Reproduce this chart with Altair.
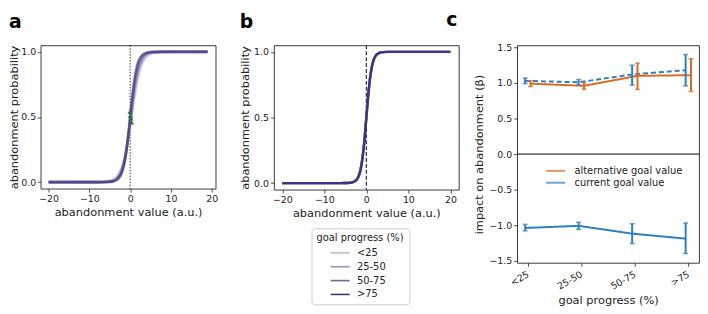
import altair as alt
import pandas as pd

FONT = "DejaVu Sans"

# ---------------- data ----------------
groups = ["<25", "25-50", "50-75", ">75"]
group_colors = ["#bfb7d6", "#9d93be", "#7463a6", "#44327e"]

# panel a: fitted abandonment curves per goal-progress bin
a_x = [-20, -8, -6, -5, -4, -3, -2, -1.5, -1, -0.5, 0, 0.5, 1, 1.5, 2, 3, 4, 5, 6, 8, 19]
a_lt25 = [0.0, 0.0006, 0.0034, 0.0084, 0.0204, 0.049, 0.112, 0.165, 0.237, 0.327, 0.433,
          0.545, 0.652, 0.746, 0.822, 0.919, 0.965, 0.986, 0.994, 0.999, 1.0]
a_25_50 = [0.0, 0.0003, 0.0020, 0.0055, 0.0148, 0.039, 0.100, 0.154, 0.231, 0.332, 0.450,
           0.574, 0.690, 0.786, 0.858, 0.943, 0.978, 0.992, 0.997, 1.0, 1.0]
a_50_75 = [0.0, 0.0001, 0.0012, 0.0037, 0.0109, 0.032, 0.090, 0.147, 0.230, 0.341, 0.473,
           0.608, 0.729, 0.823, 0.890, 0.960, 0.987, 0.996, 0.999, 1.0, 1.0]
a_gt75 = [0.0, 0.0, 0.0006, 0.0019, 0.0067, 0.023, 0.076, 0.133, 0.223, 0.349, 0.500,
          0.651, 0.777, 0.867, 0.924, 0.977, 0.993, 0.998, 0.999, 1.0, 1.0]
a_mark_x = [-0.05, 0.05, 0.2, 0.35]
a_mark_y = [0.54, 0.51, 0.49, 0.46]
a_vline = [0]

# panel b: model-predicted curves
b_x = [-20, -6, -5, -4, -3, -2, -1.5, -1, -0.5, 0, 0.5, 1, 1.5, 2, 3, 4, 5, 6, 20]
b_lt25 = [0.0, 0.0001, 0.0006, 0.0025, 0.011, 0.047, 0.095, 0.182, 0.321, 0.5,
          0.679, 0.818, 0.905, 0.953, 0.989, 0.9975, 0.9995, 0.9999, 1.0]
b_25_50 = [0.0, 0.0001, 0.0005, 0.0022, 0.010, 0.044, 0.090, 0.177, 0.317, 0.5,
           0.683, 0.823, 0.910, 0.956, 0.990, 0.998, 0.9996, 1.0, 1.0]
b_50_75 = [0.0, 0.0001, 0.0004, 0.0019, 0.009, 0.041, 0.086, 0.172, 0.313, 0.5,
           0.687, 0.828, 0.914, 0.959, 0.991, 0.998, 0.9997, 1.0, 1.0]
b_gt75 = [0.0, 0.0001, 0.0003, 0.0017, 0.0082, 0.039, 0.083, 0.168, 0.310, 0.5,
          0.690, 0.832, 0.917, 0.961, 0.992, 0.998, 0.9997, 1.0, 1.0]
b_vline = [0]

# panel c: regression weights
categories = ["<25", "25-50", "50-75", ">75"]
alt_mean = [0.99, 0.96, 1.10, 1.11]
alt_lo = [0.95, 0.91, 0.91, 0.88]
alt_hi = [1.03, 1.01, 1.28, 1.34]
cur_mean = [-1.04, -1.01, -1.12, -1.19]
cur_lo = [-1.08, -1.06, -1.26, -1.40]
cur_hi = [-0.99, -0.96, -0.98, -0.97]
cur_abs_mean = [1.03, 1.01, 1.12, 1.18]
cur_abs_lo = [0.99, 0.97, 0.97, 0.96]
cur_abs_hi = [1.07, 1.05, 1.25, 1.40]
c_zero = [0]
measures = ["alternative goal value", "current goal value"]
measure_colors = ["#dd6a22", "#2b80c2"]

# ---------------- tables ----------------
def long_curves(xs, series):
    rows = []
    for g, ys in zip(groups, series):
        for x, y in zip(xs, ys):
            rows.append({"x": x, "y": y, "group": g})
    return pd.DataFrame(rows)

df_a = long_curves(a_x, [a_lt25, a_25_50, a_50_75, a_gt75])
df_b = long_curves(b_x, [b_lt25, b_25_50, b_50_75, b_gt75])
df_am = pd.DataFrame({"x": a_mark_x, "y": a_mark_y})

rows = []
for i in range(len(categories)):
    rows.append({"idx": i, "measure": measures[0], "style": "solid",
                 "mean": alt_mean[i], "lo": alt_lo[i], "hi": alt_hi[i]})
    rows.append({"idx": i, "measure": measures[1], "style": "solid",
                 "mean": cur_mean[i], "lo": cur_lo[i], "hi": cur_hi[i]})
    rows.append({"idx": i, "measure": measures[1], "style": "dashed",
                 "mean": cur_abs_mean[i], "lo": cur_abs_lo[i], "hi": cur_abs_hi[i]})
df_c = pd.DataFrame(rows)
df_c["series"] = df_c["measure"] + "|" + df_c["style"]

TITLE_OFFSET = 13

# ---------------- panel a ----------------
gcolor_nolegend = alt.Color("group:N", scale=alt.Scale(domain=groups, range=group_colors), legend=None)

xa = alt.X("x:Q", scale=alt.Scale(domain=[-21.95, 20.95], nice=False, zero=False),
           axis=alt.Axis(values=[-20, -10, 0, 10, 20], title="abandonment value (a.u.)"))
ya = alt.Y("y:Q", scale=alt.Scale(domain=[-0.05, 1.05], nice=False, zero=False),
           axis=alt.Axis(values=[0, 0.5, 1], format=".1f", title="abandonment probability",
                         titlePadding=1, labelPadding=1.5))

a_lines = alt.Chart(df_a).mark_line(interpolate="monotone").encode(
    x=xa, y=ya, color=gcolor_nolegend,
    size=alt.Size("group:N", scale=alt.Scale(domain=groups, range=[3.0, 2.6, 2.3, 1.8]), legend=None),
    opacity=alt.Opacity("group:N", scale=alt.Scale(domain=groups, range=[0.7, 0.7, 0.8, 1.0]), legend=None),
)
a_rule = alt.Chart(pd.DataFrame({"x": a_vline})).mark_rule(
    color="black", strokeDash=[1.5, 1.5], strokeWidth=0.8).encode(x="x:Q")
a_pts = alt.Chart(df_am).mark_point(filled=True, shape="triangle-up", size=26,
                                    color="#2f6e4c", opacity=1).encode(x="x:Q", y="y:Q")

pa = alt.layer(a_rule, a_lines, a_pts).properties(
    width=177, height=145,
    title=alt.TitleParams("a", anchor="start", offset=TITLE_OFFSET),
)

# ---------------- panel b ----------------
xb = alt.X("x:Q", scale=alt.Scale(domain=[-22, 22], nice=False, zero=False),
           axis=alt.Axis(values=[-20, -10, 0, 10, 20], title="abandonment value (a.u.)"))
yb = alt.Y("y:Q", scale=alt.Scale(domain=[-0.05, 1.05], nice=False, zero=False),
           axis=alt.Axis(values=[0, 0.5, 1], format=".1f", title="abandonment probability"))

b_lines = alt.Chart(df_b).mark_line(interpolate="monotone", strokeWidth=2.4).encode(
    x=xb, y=yb,
    color=alt.Color("group:N", scale=alt.Scale(domain=groups, range=group_colors),
                    legend=alt.Legend(
                        title="goal progress (%)", orient="none", legendX=38, legendY=185,
                        direction="vertical", strokeColor="#cccccc", fillColor="white",
                        cornerRadius=3, padding=5, symbolType="M-1.6,0L1.6,0", symbolSize=144,
                        symbolStrokeWidth=1.6, labelFontSize=10, titleFontSize=10,
                        titleFontWeight="normal", titleFont=FONT, labelFont=FONT,
                        labelOffset=10, rowPadding=2, titlePadding=3, titleAnchor="middle",
                        labelColor="#222", titleColor="#222")),
)
b_rule = alt.Chart(pd.DataFrame({"x": b_vline})).mark_rule(
    color="#3a3470", strokeDash=[4, 2], strokeWidth=1.3).encode(x="x:Q")

pb = alt.layer(b_lines, b_rule).properties(
    width=187, height=146,
    title=alt.TitleParams("b", anchor="start", offset=TITLE_OFFSET),
)

# ---------------- panel c ----------------
label_expr = "[" + ",".join("'%s'" % c for c in categories) + "][datum.value]"
xc = alt.X("xpos:Q", scale=alt.Scale(domain=[-0.2, 3.2], nice=False, zero=False),
           axis=alt.Axis(values=[0, 1, 2, 3], labelExpr=label_expr, labelAngle=-30,
                         labelAlign="right", labelBaseline="middle", labelPadding=7,
                         title="goal progress (%)", titlePadding=4))
yc_scale = alt.Scale(domain=[-1.53, 1.53], nice=False, zero=False)
yc_axis = alt.Axis(values=[-1.5, -1.0, -0.5, 0, 0.5, 1.0, 1.5], format=".1f",
                   title="impact on abandonment (β)", titlePadding=4, labelOverlap=False)
ccolor = alt.Color("measure:N", scale=alt.Scale(domain=measures, range=measure_colors),
                   legend=alt.Legend(title=None, orient="none", legendX=32, legendY=120,
                                     symbolType="M-1.6,0L1.6,0", symbolSize=144, symbolStrokeWidth=2,
                                     labelFontSize=10, labelFont=FONT, labelOffset=12,
                                     rowPadding=0, labelColor="#222"))

base_c = alt.Chart(df_c).transform_calculate(
    xpos="datum.idx + (datum.measure == 'alternative goal value' ? 0.05 : -0.05)")

ymean = alt.Y("mean:Q", scale=yc_scale, axis=yc_axis)
ylo = alt.Y("lo:Q", scale=yc_scale, axis=yc_axis)
yhi = alt.Y("hi:Q", scale=yc_scale, axis=yc_axis)

c_line = base_c.mark_line(strokeWidth=2).encode(
    x=xc, y=ymean, color=ccolor,
    detail="series:N",
    strokeDash=alt.StrokeDash("style:N", scale=alt.Scale(domain=["solid", "dashed"],
                                                         range=[[1, 0], [5, 3]]), legend=None),
)
c_err = base_c.mark_rule(strokeWidth=2).encode(
    x=xc, y=ylo, y2="hi:Q", color=ccolor)
c_cap_lo = base_c.mark_tick(orient="horizontal", size=5, thickness=1.6).encode(
    x=xc, y=ylo, color=ccolor)
c_cap_hi = base_c.mark_tick(orient="horizontal", size=5, thickness=1.6).encode(
    x=xc, y=yhi, color=ccolor)
c_zero_rule = alt.Chart(pd.DataFrame({"y": c_zero})).mark_rule(
    color="black", strokeWidth=1).encode(y=alt.Y("y:Q", scale=yc_scale, axis=yc_axis))

pc = alt.layer(c_zero_rule, c_line, c_err, c_cap_lo, c_cap_hi).properties(
    width=184, height=220,
    title=alt.TitleParams("c", anchor="start", dx=-28, offset=TITLE_OFFSET),
)

chart = alt.hconcat(pa, pb, pc, spacing=59, bounds="flush").resolve_scale(
    color="independent", size="independent", opacity="independent", strokeDash="independent"
).properties(padding=0, background="white").configure_view(
    stroke="#222", strokeWidth=0.9
).configure_axis(
    grid=False, domain=False, labelFont=FONT, titleFont=FONT, labelFontSize=9.5,
    titleFontSize=11.5, titleFontWeight="normal", labelColor="#222", titleColor="#222",
    tickColor="#222", tickSize=3.5, tickWidth=0.8, labelPadding=2, titlePadding=3,
).configure_axisY(
    labelOverlap=False
).configure_title(
    font=FONT, fontSize=19, fontWeight="bold", color="black", anchor="start"
)

chart.save("out.html", embed_options={"renderer": "svg", "actions": False})
